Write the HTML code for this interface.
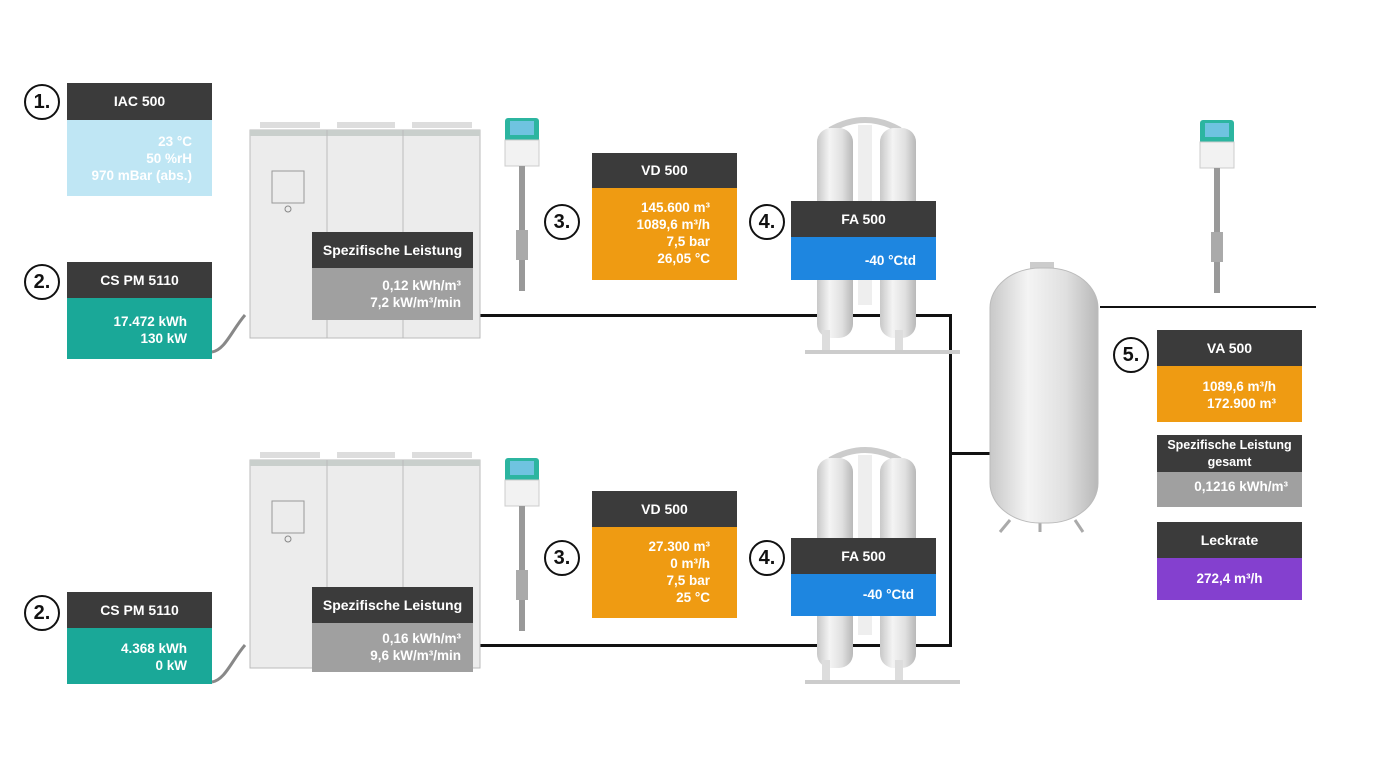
<!DOCTYPE html>
<html><head><meta charset="utf-8"><style>
body{margin:0;width:1390px;height:782px;background:#fff;position:relative;overflow:hidden;font-family:"Liberation Sans",sans-serif;font-weight:bold}
.a{position:absolute}
.h{position:absolute;background:#3b3b3b;color:#fff;font-size:14px;display:flex;align-items:center;justify-content:center;text-align:center;line-height:17px}
.b{position:absolute;color:#fff;font-size:13.5px;text-align:right;line-height:17px;box-sizing:border-box}
.c{position:absolute;width:32px;height:32px;border:2px solid #111;border-radius:50%;font-size:20px;display:flex;align-items:center;justify-content:center;color:#111;background:#fff}
.ln{position:absolute;background:#111}
</style></head><body>
<!-- pipes -->
<div class="ln" style="left:478px;top:314px;width:473px;height:3px"></div>
<div class="ln" style="left:478px;top:644px;width:473px;height:3px"></div>
<div class="ln" style="left:949px;top:314px;width:3px;height:333px"></div>
<div class="ln" style="left:950px;top:452px;width:42px;height:3px"></div>
<div class="ln" style="left:1100px;top:306px;width:216px;height:2px"></div>

<svg class="a" style="left:0;top:0" width="1390" height="782">
<defs>
<linearGradient id="m" x1="0" x2="1"><stop offset="0" stop-color="#c8c8c8"/><stop offset=".35" stop-color="#f4f4f4"/><stop offset=".7" stop-color="#e0e0e0"/><stop offset="1" stop-color="#b8b8b8"/></linearGradient>
</defs>
<!-- compressors -->
<g id="cp">
<rect x="250" y="130" width="230" height="208" fill="#ececec" stroke="#bbb"/>
<rect x="250" y="130" width="230" height="6" fill="#c9cfcc"/>
<line x1="327" y1="130" x2="327" y2="338" stroke="#bbb"/><line x1="403" y1="130" x2="403" y2="338" stroke="#bbb"/>
<rect x="260" y="122" width="60" height="6" fill="#ddd"/><rect x="337" y="122" width="58" height="6" fill="#ddd"/><rect x="412" y="122" width="60" height="6" fill="#ddd"/>
<rect x="272" y="171" width="32" height="32" fill="none" stroke="#999"/><circle cx="288" cy="209" r="3" fill="none" stroke="#888"/>
<path d="M212 352 C225 350 232 330 245 315" stroke="#888" stroke-width="3" fill="none"/>
</g>
<use href="#cp" y="330"/>
<!-- sensors -->
<g id="sn"><rect x="505" y="118" width="34" height="24" rx="3" fill="#2cb5a0"/><rect x="510" y="121" width="24" height="14" fill="#6fc3e0"/><rect x="505" y="140" width="34" height="26" fill="#f2f2f2" stroke="#ccc"/><rect x="519" y="166" width="6" height="125" fill="#999"/><rect x="516" y="230" width="12" height="30" fill="#aaa"/></g>
<use href="#sn" y="340"/>
<use href="#sn" x="695" y="2"/>
<!-- dryers -->
<g id="dr">
<path d="M830 130 Q865 110 900 130" stroke="#ccc" stroke-width="6" fill="none"/>
<rect x="858" y="125" width="14" height="180" fill="#eee"/>
<rect x="817" y="128" width="36" height="210" rx="14" fill="url(#m)"/>
<rect x="880" y="128" width="36" height="210" rx="14" fill="url(#m)"/>
<rect x="822" y="330" width="8" height="20" fill="#ddd"/><rect x="895" y="330" width="8" height="20" fill="#ddd"/>
<rect x="805" y="350" width="155" height="4" fill="#ccc"/>
</g>
<use href="#dr" y="330"/>
<!-- tank -->
<path d="M1010 520 L1000 532 M1040 520 L1040 532 M1075 520 L1083 532" stroke="#aaa" stroke-width="3"/>
<rect x="1030" y="262" width="24" height="8" fill="#ccc"/>
<rect x="990" y="268" width="108" height="255" rx="50" ry="40" fill="url(#m)" stroke="#bbb"/>
</svg>

<!-- circles -->
<div class="c" style="left:24px;top:84px">1.</div>
<div class="c" style="left:24px;top:264px">2.</div>
<div class="c" style="left:24px;top:595px">2.</div>
<div class="c" style="left:544px;top:204px">3.</div>
<div class="c" style="left:544px;top:540px">3.</div>
<div class="c" style="left:749px;top:204px">4.</div>
<div class="c" style="left:749px;top:540px">4.</div>
<div class="c" style="left:1113px;top:337px">5.</div>

<!-- boxes -->
<div class="h" style="left:67px;top:83px;width:145px;height:37px">IAC 500</div>
<div class="b" style="left:67px;top:120px;width:145px;height:76px;background:#bfe6f4;padding:13px 20px 0 0">23 °C<br>50 %rH<br>970 mBar (abs.)</div>

<div class="h" style="left:67px;top:262px;width:145px;height:36px">CS PM 5110</div>
<div class="b" style="left:67px;top:298px;width:145px;height:61px;background:#1aa898;padding:15px 25px 0 0">17.472 kWh<br>130 kW</div>
<div class="h" style="left:67px;top:592px;width:145px;height:36px">CS PM 5110</div>
<div class="b" style="left:67px;top:628px;width:145px;height:56px;background:#1aa898;padding:12px 25px 0 0">4.368 kWh<br>0 kW</div>

<div class="h" style="left:312px;top:232px;width:161px;height:36px">Spezifische Leistung</div>
<div class="b" style="left:312px;top:268px;width:161px;height:52px;background:#a0a0a0;padding:9px 12px 0 0">0,12 kWh/m³<br>7,2 kW/m³/min</div>
<div class="h" style="left:312px;top:587px;width:161px;height:36px">Spezifische Leistung</div>
<div class="b" style="left:312px;top:623px;width:161px;height:49px;background:#a0a0a0;padding:7px 12px 0 0">0,16 kWh/m³<br>9,6 kW/m³/min</div>

<div class="h" style="left:592px;top:153px;width:145px;height:35px">VD 500</div>
<div class="b" style="left:592px;top:188px;width:145px;height:92px;background:#ef9b12;padding:11px 27px 0 0">145.600 m³<br>1089,6 m³/h<br>7,5 bar<br>26,05 °C</div>
<div class="h" style="left:592px;top:491px;width:145px;height:36px">VD 500</div>
<div class="b" style="left:592px;top:527px;width:145px;height:91px;background:#ef9b12;padding:11px 27px 0 0">27.300 m³<br>0 m³/h<br>7,5 bar<br>25 °C</div>

<div class="h" style="left:791px;top:201px;width:145px;height:36px">FA 500</div>
<div class="b" style="left:791px;top:237px;width:145px;height:43px;background:#1e86e0;padding:15px 20px 0 0">-40 °Ctd</div>
<div class="h" style="left:791px;top:538px;width:145px;height:36px">FA 500</div>
<div class="b" style="left:791px;top:574px;width:145px;height:42px;background:#1e86e0;padding:12px 22px 0 0">-40 °Ctd</div>

<div class="h" style="left:1157px;top:330px;width:145px;height:36px">VA 500</div>
<div class="b" style="left:1157px;top:366px;width:145px;height:56px;background:#ef9b12;padding:12px 26px 0 0">1089,6 m³/h<br>172.900 m³</div>
<div class="h" style="left:1157px;top:435px;width:145px;height:37px;font-size:12.5px">Spezifische Leistung<br>gesamt</div>
<div class="b" style="left:1157px;top:472px;width:145px;height:35px;background:#a0a0a0;padding:6px 14px 0 0">0,1216 kWh/m³</div>
<div class="h" style="left:1157px;top:522px;width:145px;height:36px">Leckrate</div>
<div class="b" style="left:1157px;top:558px;width:145px;height:42px;background:#8440cf;padding:12px 0 0 0;text-align:center">272,4 m³/h</div>
</body></html>
